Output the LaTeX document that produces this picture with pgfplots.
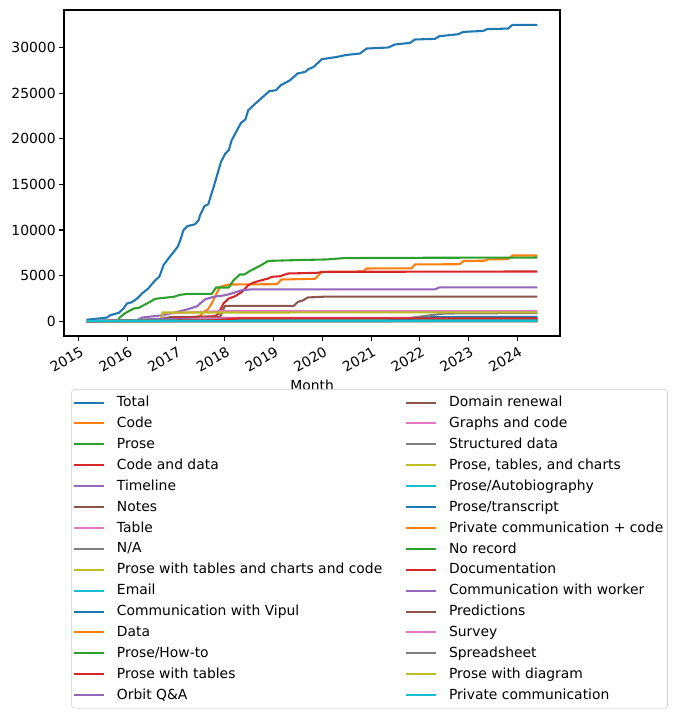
\documentclass[border=0pt]{standalone}
\usepackage{pgfplots}
\pgfplotsset{compat=1.18}
\usepackage{fontspec}
\setmainfont{DejaVu Sans}
\definecolor{c0}{HTML}{1F77B4}
\definecolor{c1}{HTML}{FF7F0E}
\definecolor{c2}{HTML}{2CA02C}
\definecolor{c3}{HTML}{D62728}
\definecolor{c4}{HTML}{9467BD}
\definecolor{c5}{HTML}{8C564B}
\definecolor{c6}{HTML}{E377C2}
\definecolor{c7}{HTML}{7F7F7F}
\definecolor{c8}{HTML}{BCBD22}
\definecolor{c9}{HTML}{17BECF}
\begin{document}
\begin{tikzpicture}
\begin{axis}[
  name=ax,
  scale only axis,
  width=357.1pt, height=234.7pt,
  xmin=2014.699, xmax=2024.878,
  ymin=-1625, ymax=34125,
  scaled ticks=false,
  axis line style={line width=0.8pt},
  tick align=outside, tick pos=left,
  major tick length=3.5pt,
  every tick/.style={black, line width=0.8pt},
  font=\fontsize{10}{12}\selectfont,
  xtick={2015,2016,2017,2018,2019,2020,2021,2022,2023,2024},
  xticklabels={2015,2016,2017,2018,2019,2020,2021,2022,2023,2024},
  xticklabel style={rotate=30, anchor=north east, xshift=2pt},
  ytick={0,5000,10000,15000,20000,25000,30000},
  yticklabels={0,5000,10000,15000,20000,25000,30000},
  yticklabel style={xshift=1pt},
  xlabel={Month},
  xlabel style={yshift=3pt},
  legend columns=15,
  transpose legend,
  legend cell align=left,
  legend image code/.code={\draw[#1] (0pt,0pt) -- (21.6pt,0pt);},
  legend style={
    at={(0.0149,-0.1626)}, anchor=north west,
    draw=black!20, rounded corners=2pt,
    font=\fontsize{10}{12}\selectfont,
    inner xsep=1pt, inner ysep=3pt,
    row sep=1.95pt,
    /tikz/every odd column/.style={column sep=6.5pt},
    /tikz/every even column/.style={column sep=14.5pt},
  },
  every axis plot/.append style={line width=1.5pt},
]
% Total
\addplot[c0] coordinates {(2015.16,150) (2015.50,350) (2015.58,400) (2015.65,660) (2015.82,910) (2015.92,1390) (2015.99,1940) (2016.09,2080) (2016.20,2490) (2016.30,3040) (2016.43,3590) (2016.54,4310) (2016.66,4930) (2016.74,6140) (2016.84,6870) (2016.95,7600) (2017.03,8150) (2017.08,8800) (2017.15,9980) (2017.23,10420) (2017.39,10640) (2017.46,11070) (2017.49,11620) (2017.58,12610) (2017.66,12830) (2017.77,14730) (2017.85,16190) (2017.92,17470) (2018.01,18390) (2018.08,18750) (2018.14,19850) (2018.25,20940) (2018.33,21740) (2018.42,22120) (2018.48,23140) (2018.59,23690) (2018.72,24310) (2018.91,25220) (2019.05,25330) (2019.15,25880) (2019.34,26430) (2019.49,27160) (2019.65,27340) (2019.71,27630) (2019.82,27880) (2019.99,28730) (2020.30,28980) (2020.50,29200) (2020.77,29350) (2020.91,29900) (2021.35,30010) (2021.49,30340) (2021.80,30520) (2021.90,30890) (2022.31,30960) (2022.40,31250) (2022.79,31470) (2022.89,31720) (2023.30,31830) (2023.38,32020) (2023.81,32090) (2023.90,32490) (2024.415,32500)};
\addlegendentry{Total}
% Code
\addplot[c1] coordinates {(2015.16,0) (2016.5,50) (2017.3,300) (2017.5,600) (2017.56,1000) (2017.65,1280) (2017.73,1940) (2017.83,3040) (2017.90,3760) (2018.08,4020) (2019.07,4060) (2019.16,4570) (2019.85,4650) (2019.99,5410) (2020.84,5450) (2020.91,5780) (2021.83,5800) (2021.90,6220) (2022.82,6250) (2022.90,6610) (2023.33,6630) (2023.40,6780) (2023.81,6800) (2023.90,7200) (2024.415,7200)};
\addlegendentry{Code}
% Prose
\addplot[c2] coordinates {(2015.16,0) (2015.80,50) (2015.84,400) (2015.96,910) (2016.03,1100) (2016.13,1390) (2016.23,1460) (2016.40,1940) (2016.57,2450) (2016.67,2520) (2016.95,2670) (2017.08,2890) (2017.25,3000) (2017.73,3000) (2017.82,3690) (2018.08,3690) (2018.18,4500) (2018.31,5120) (2018.40,5120) (2018.52,5520) (2018.72,6070) (2018.89,6610) (2019.41,6690) (2020.09,6770) (2020.43,6910) (2021.11,6940) (2024.415,6980)};
\addlegendentry{Prose}
% Code and data
\addplot[c3] coordinates {(2015.16,0) (2016.9,50) (2017.1,400) (2017.80,550) (2017.87,840) (2017.97,1940) (2018.08,2490) (2018.21,2740) (2018.35,3210) (2018.48,3950) (2018.59,4240) (2018.76,4500) (2018.89,4680) (2018.96,4860) (2019.13,4930) (2019.30,5230) (2019.89,5300) (2020.02,5410) (2024.415,5450)};
\addlegendentry{Code and data}
% Timeline
\addplot[c4] coordinates {(2015.16,0) (2016.2,100) (2016.3,400) (2016.74,660) (2017.02,1020) (2017.22,1280) (2017.43,1640) (2017.53,2120) (2017.60,2410) (2017.77,2670) (2018.01,2850) (2018.18,3100) (2018.35,3400) (2018.52,3480) (2022.31,3480) (2022.40,3700) (2024.415,3700)};
\addlegendentry{Timeline}
% Notes
\addplot[c5] coordinates {(2015.16,0) (2016.5,50) (2016.9,470) (2017.9,470) (2018.0,1680) (2019.41,1680) (2019.50,2120) (2019.61,2300) (2019.70,2600) (2020.09,2700) (2024.415,2700)};
\addlegendentry{Notes}
% Table
\addplot[c6] coordinates {(2015.16,0) (2016.67,0) (2016.75,850) (2017.5,1000) (2017.9,1100) (2024.415,1100)};
\addlegendentry{Table}
% N/A
\addplot[c7] coordinates {(2015.16,0) (2021.40,0) (2021.6,200) (2022.0,500) (2022.5,840) (2024.415,900)};
\addlegendentry{N/A}
% Prose with tables and charts and code
\addplot[c8] coordinates {(2015.16,0) (2016.67,0) (2016.72,950) (2024.415,970)};
\addlegendentry{Prose with tables and charts and code}
\addplot[c9] coordinates {(2015.16,0) (2016.0,10) (2024.415,30)};
\addlegendentry{Email}
\addplot[c0] coordinates {(2015.16,0) (2015.6,60) (2017.0,100) (2024.415,110)};
\addlegendentry{Communication with Vipul}
\addplot[c1] coordinates {(2015.16,0) (2016.8,0) (2017.2,150) (2024.415,160)};
\addlegendentry{Data}
\addplot[c2] coordinates {(2015.16,0) (2015.9,50) (2016.5,200) (2024.415,210)};
\addlegendentry{Prose/How-to}
\addplot[c3] coordinates {(2015.16,0) (2016.6,100) (2017.0,350) (2024.415,360)};
\addlegendentry{Prose with tables}
\addplot[c4] coordinates {(2015.16,0) (2016.2,100) (2016.6,250) (2024.415,260)};
\addlegendentry{Orbit Q\&A}
\addplot[c5] coordinates {(2015.16,0) (2016.0,40) (2024.415,60)};
\addlegendentry{Domain renewal}
\addplot[c6] coordinates {(2015.16,0) (2017.0,0) (2017.5,300) (2024.415,330)};
\addlegendentry{Graphs and code}
\addplot[c7] coordinates {(2015.16,0) (2018.0,60) (2024.415,120)};
\addlegendentry{Structured data}
\addplot[c8] coordinates {(2015.16,0) (2017.5,60) (2024.415,80)};
\addlegendentry{Prose, tables, and charts}
\addplot[c9] coordinates {(2015.16,0) (2016.5,100) (2018.5,180) (2024.415,180)};
\addlegendentry{Prose/Autobiography}
\addplot[c0] coordinates {(2015.16,0) (2021.3,0) (2021.5,150) (2022.3,450) (2024.415,470)};
\addlegendentry{Prose/transcript}
\addplot[c1] coordinates {(2015.16,0) (2019.0,10) (2024.415,20)};
\addlegendentry{Private communication + code}
\addplot[c2] coordinates {(2015.16,0) (2017.0,30) (2024.415,40)};
\addlegendentry{No record}
\addplot[c3] coordinates {(2015.16,0) (2017.8,100) (2018.3,300) (2024.415,300)};
\addlegendentry{Documentation}
\addplot[c4] coordinates {(2015.16,0) (2024.415,10)};
\addlegendentry{Communication with worker}
\addplot[c5] coordinates {(2015.16,0) (2020.0,15) (2024.415,15)};
\addlegendentry{Predictions}
\addplot[c6] coordinates {(2015.16,0) (2024.415,5)};
\addlegendentry{Survey}
\addplot[c7] coordinates {(2015.16,0) (2024.415,10)};
\addlegendentry{Spreadsheet}
\addplot[c8] coordinates {(2015.16,0) (2024.415,5)};
\addlegendentry{Prose with diagram}
\addplot[c9] coordinates {(2015.16,0) (2016.0,10) (2024.415,20)};
\addlegendentry{Private communication}
\end{axis}
\pgfresetboundingbox
\path ([shift={(-46.1pt,-274.3pt)}]ax.south west) rectangle ([shift={(83.5pt,7.2pt)}]ax.north east);
\end{tikzpicture}
\end{document}
